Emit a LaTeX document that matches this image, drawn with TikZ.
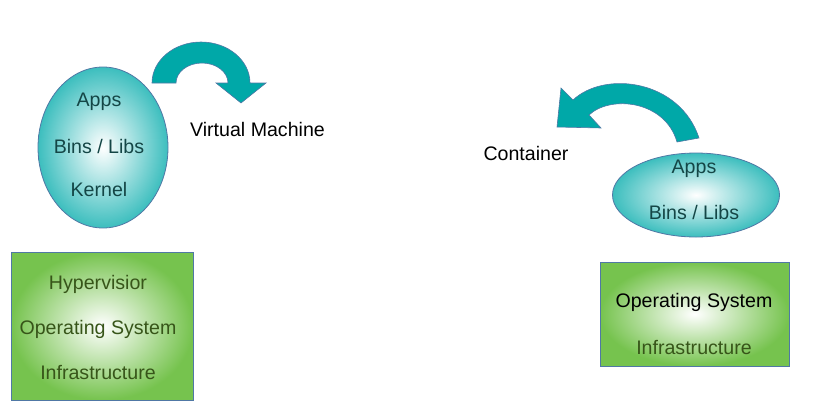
\documentclass[tikz,border=0pt]{standalone}
\usepackage{fontspec}
\setmainfont{Liberation Sans}
\usetikzlibrary{shapes.geometric}

\definecolor{tealarrow}{RGB}{0,168,168}
\definecolor{tealedge}{RGB}{60,190,190}
\definecolor{greenedge}{RGB}{118,195,78}
\definecolor{borderblue}{RGB}{80,120,165}
\definecolor{tealtext}{RGB}{20,70,70}
\definecolor{greentext}{RGB}{55,85,25}

\tikzset{
  bubble/.style={ellipse, draw=borderblue, line width=0.8pt, inner color=white, outer color=tealedge},
  layerbox/.style={rectangle, draw=borderblue, line width=0.8pt, inner color=white, outer color=greenedge},
  lbl/.style={font=\fontsize{19.6}{22}\selectfont, inner sep=0pt},
  turn/.style={fill=tealarrow, draw=borderblue, line width=0.6pt}
}

\begin{document}
\begin{tikzpicture}[x=1pt,y=-1pt]
\useasboundingbox (0,0) rectangle (813,413);

% virtual machine side
\node[bubble, minimum width=130pt, minimum height=161pt] (vmball) at (103,147.5) {};
\node[lbl, text=tealtext] (vmapps) at (99,102) {Apps};
\node[lbl, text=tealtext] (vmbins) at (99,146) {Bins / Libs};
\node[lbl, text=tealtext] (vmkernel) at (99,189) {Kernel};

\node[layerbox, minimum width=182pt, minimum height=148pt] (vmbox) at (102,326) {};
\node[lbl, text=greentext] (vmhyper) at (98,284) {Hypervisior};
\node[lbl, text=greentext] (vmos) at (98,329) {Operating System};
\node[lbl, text=greentext] (vminfra) at (98,372) {Infrastructure};

\node[lbl] (vmname) at (257.5,129) {Virtual Machine};

\draw[turn] (152,83) .. controls (152,60.4) and (174,42) .. (201,42)
  .. controls (228,42) and (250,60.4) .. (250,83)
  -- (266,83) -- (241,103) -- (216,83) -- (228,83)
  .. controls (228,72) and (216.4,63) .. (202,63)
  .. controls (187.6,63) and (176,72) .. (176,83) -- cycle;

% container side
\node[bubble, minimum width=167pt, minimum height=84pt] (ctball) at (696,195) {};
\node[lbl, text=tealtext] (ctapps) at (694,169) {Apps};
\node[lbl, text=tealtext] (ctbins) at (694,212) {Bins / Libs};

\node[layerbox, minimum width=189pt, minimum height=104pt] (ctbox) at (694.5,314) {};
\node[lbl, text=black] (ctos) at (694,302) {Operating System};
\node[lbl, text=greentext] (ctinfra) at (694,347) {Infrastructure};

\node[lbl] (ctname) at (526,153) {Container};

\draw[turn] (699,138) .. controls (680,80) and (605,70) .. (573,100)
  -- (561,88) -- (557,127) -- (601,128) -- (589,115)
  .. controls (610,95) and (665,100) .. (677,142) -- cycle;
\end{tikzpicture}
\end{document}
